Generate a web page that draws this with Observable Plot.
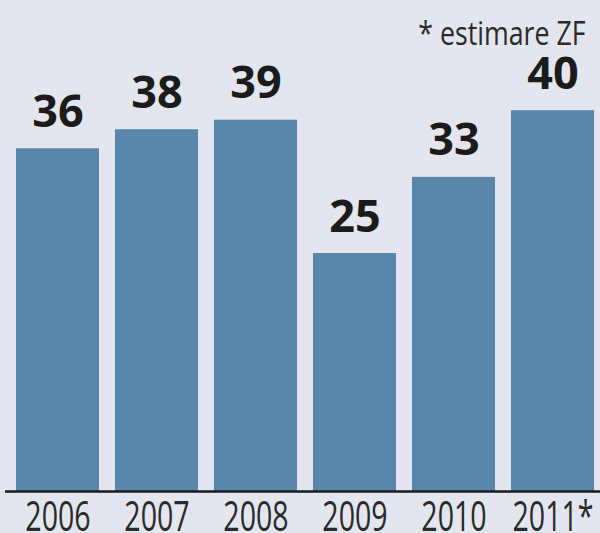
<!DOCTYPE html>
<html>
<head>
<meta charset="utf-8">
<script src="https://cdn.jsdelivr.net/npm/d3@7"></script>
<script src="https://cdn.jsdelivr.net/npm/@observablehq/plot@0.6"></script>
<style>
  html, body { margin: 0; padding: 0; background: #e3e6ee; overflow: hidden; }
  #chart { width: 600px; height: 533px; }
</style>
</head>
<body>
<div id="chart"></div>
<script>
const years = ["2006", "2007", "2008", "2009", "2010", "2011*"];
const values = [36, 38, 39, 25, 33, 40];
const footnote = "* estimare ZF";

const data = years.map((year, i) => ({year, value: values[i]}));

const chart = Plot.plot({
  width: 600,
  height: 533,
  marginTop: 15,
  marginBottom: 42,
  marginLeft: 15,
  marginRight: 5,
  style: {background: "#e3e6ee", overflow: "visible"},
  x: {domain: years, paddingInner: 0.16, paddingOuter: 0, label: null},
  y: {domain: [0, 50], axis: null},
  marks: [
    Plot.barY(data, {x: "year", y: "value", fill: "#5a86a9"}),
    Plot.ruleY([0], {stroke: "#1a1a1a", strokeWidth: 2.5, insetLeft: -10, insetRight: -5}),
    Plot.text(data, {
      x: "year", y: "value", text: d => String(d.value),
      lineAnchor: "bottom", dy: -22,
      fontSize: 45, fontWeight: "bold", fill: "#1b1b1b",
      fontFamily: "'Open Sans', sans-serif"
    }),
    Plot.axisX({
      tickSize: 0, tickPadding: 10, fontSize: 42, label: null,
      fontFamily: "'Open Sans', sans-serif",
      fill: "#2a2a2a"
    }),
    Plot.text([footnote], {
      frameAnchor: "top-right", text: d => d,
      dx: -10, dy: 7, lineAnchor: "top",
      fontSize: 32, fill: "#2a2a2a",
      fontFamily: "'Open Sans', sans-serif"
    })
  ]
});
document.getElementById("chart").appendChild(chart);

// condense the axis labels and footnote horizontally, like the original typeface
d3.select(chart).selectAll('g[aria-label="x-axis tick label"] text').each(function() {
  const w = this.getComputedTextLength();
  d3.select(this).attr("textLength", w * 0.68).attr("lengthAdjust", "spacingAndGlyphs");
});
d3.select(chart).selectAll('g[aria-label="text"] text').each(function() {
  if (this.textContent === footnote) {
    const w = this.getComputedTextLength();
    d3.select(this).attr("textLength", w * 0.835).attr("lengthAdjust", "spacingAndGlyphs");
  }
});
</script>
</body>
</html>
